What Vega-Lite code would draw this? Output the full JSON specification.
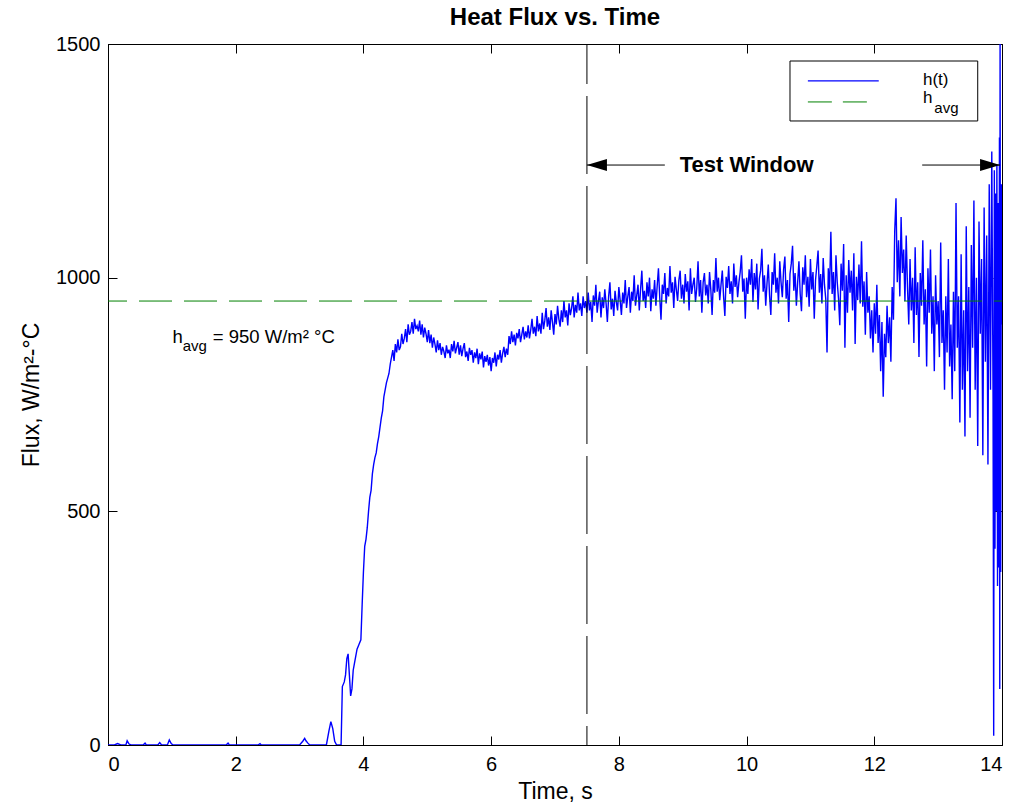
{
"$schema": "https://vega.github.io/schema/vega-lite/v6.json",
"width": 894, "height": 701,
"autosize": {"type": "none"},
"padding": {"left": 108, "top": 44, "right": 14, "bottom": 67},
"background": "white",
"title": {"text": "Heat Flux vs. Time", "font": "Liberation Sans", "fontSize": 24, "fontWeight": "bold", "color": "black", "anchor": "middle", "baseline": "alphabetic", "offset": 18, "dy": 33},
"config": {
  "view": {"stroke": "black", "strokeWidth": 1},
  "axis": {"domainColor": "black", "tickColor": "black", "labelColor": "black", "titleColor": "black", "grid": false,
    "labelFont": "Liberation Sans", "labelFontSize": 20, "format": "d",
    "titleFont": "Liberation Sans", "titleFontSize": 23, "titleFontWeight": "normal",
    "tickSize": -9, "domainWidth": 1, "tickWidth": 1}
},
"layer": [
{
"data": {"values": [
{"t":0,"h":0},{"t":0.1,"h":0},{"t":0.15,"h":3},{"t":0.2,"h":0},{"t":0.28,"h":0},{"t":0.3,"h":9},{"t":0.33,"h":2},{"t":0.36,"h":0},{"t":0.55,"h":0},{"t":0.58,"h":4},{"t":0.6,"h":0},{"t":0.78,"h":0},{"t":0.81,"h":5},{"t":0.84,"h":0},{"t":0.93,"h":0},{"t":0.96,"h":11},{"t":0.99,"h":3},{"t":1.02,"h":0},{"t":1.85,"h":0},{"t":1.88,"h":4},{"t":1.9,"h":0},{"t":2.35,"h":0},{"t":2.38,"h":3},{"t":2.4,"h":0},{"t":3.0,"h":0},{"t":3.05,"h":8},{"t":3.08,"h":14},{"t":3.1,"h":9},{"t":3.13,"h":4},{"t":3.16,"h":0},{"t":3.42,"h":0},{"t":3.46,"h":30},{"t":3.49,"h":50},{"t":3.52,"h":35},{"t":3.55,"h":8},{"t":3.58,"h":0},{"t":3.65,"h":0},
{"t":3.67,"h":125},{"t":3.70,"h":135},{"t":3.72,"h":150},{"t":3.74,"h":185},{"t":3.76,"h":195},{"t":3.78,"h":150},{"t":3.80,"h":105},{"t":3.82,"h":120},{"t":3.84,"h":160},{"t":3.86,"h":175},{"t":3.88,"h":190},{"t":3.90,"h":205},{"t":3.93,"h":215},{"t":3.96,"h":225},{"t":3.98,"h":300},{"t":4.00,"h":370},{"t":4.02,"h":425},{"t":4.04,"h":440},{"t":4.06,"h":465},{"t":4.08,"h":500},{"t":4.10,"h":530},{"t":4.12,"h":545},{"t":4.14,"h":580},{"t":4.16,"h":600},{"t":4.18,"h":615},{"t":4.20,"h":625},{"t":4.22,"h":645},{"t":4.24,"h":660},{"t":4.26,"h":680},{"t":4.28,"h":700},{"t":4.30,"h":715},{"t":4.32,"h":745},{"t":4.34,"h":760},{"t":4.36,"h":775},{"t":4.38,"h":785},{"t":4.40,"h":795},{"t":4.42,"h":815},{"t":4.44,"h":830},
{"t":4.46,"h":845},{"t":4.48,"h":822},{"t":4.50,"h":858},{"t":4.52,"h":840},{"t":4.54,"h":868},{"t":4.56,"h":845},{"t":4.58,"h":852},{"t":4.60,"h":880},{"t":4.62,"h":858},{"t":4.64,"h":870},{"t":4.66,"h":890},{"t":4.68,"h":862},{"t":4.70,"h":900},{"t":4.72,"h":878},{"t":4.74,"h":885},{"t":4.76,"h":905},{"t":4.78,"h":880},{"t":4.80,"h":912},{"t":4.82,"h":890},{"t":4.84,"h":897},{"t":4.86,"h":885},{"t":4.88,"h":908},{"t":4.90,"h":878},{"t":4.92,"h":900},{"t":4.94,"h":872},{"t":4.96,"h":893},{"t":4.98,"h":880},{"t":5.00,"h":862},{"t":5.02,"h":888},{"t":5.04,"h":860},{"t":5.06,"h":878},{"t":5.08,"h":850},{"t":5.10,"h":872},{"t":5.12,"h":858},{"t":5.14,"h":840},{"t":5.16,"h":866},{"t":5.18,"h":845},{"t":5.20,"h":860},{"t":5.22,"h":835},{"t":5.24,"h":852},{"t":5.26,"h":842},{"t":5.28,"h":828},{"t":5.30,"h":855},{"t":5.32,"h":838},{"t":5.34,"h":846},{"t":5.36,"h":828},{"t":5.38,"h":858},{"t":5.40,"h":842},{"t":5.42,"h":865},{"t":5.44,"h":838},{"t":5.46,"h":850},{"t":5.48,"h":862},{"t":5.50,"h":835},{"t":5.52,"h":855},{"t":5.54,"h":832},{"t":5.56,"h":848},{"t":5.58,"h":860},{"t":5.60,"h":830},{"t":5.62,"h":842},{"t":5.64,"h":822},{"t":5.66,"h":850},{"t":5.68,"h":835},{"t":5.70,"h":845},{"t":5.72,"h":818},{"t":5.74,"h":840},{"t":5.76,"h":828},{"t":5.78,"h":848},{"t":5.80,"h":815},{"t":5.82,"h":838},{"t":5.84,"h":825},{"t":5.86,"h":842},{"t":5.88,"h":808},{"t":5.90,"h":832},{"t":5.92,"h":820},{"t":5.94,"h":835},{"t":5.96,"h":812},{"t":5.98,"h":830},{"t":6.00,"h":800},{"t":6.02,"h":828},{"t":6.04,"h":818},{"t":6.06,"h":840},{"t":6.08,"h":810},{"t":6.10,"h":835},{"t":6.12,"h":825},{"t":6.14,"h":845},{"t":6.16,"h":818},{"t":6.18,"h":838},{"t":6.20,"h":852},{"t":6.22,"h":830},{"t":6.24,"h":848},{"t":6.26,"h":835},{"t":6.28,"h":875},{"t":6.30,"h":858},{"t":6.32,"h":885},{"t":6.34,"h":862},{"t":6.36,"h":878},{"t":6.38,"h":855},{"t":6.40,"h":882},{"t":6.42,"h":870},{"t":6.44,"h":890},{"t":6.46,"h":862},{"t":6.48,"h":878},{"t":6.50,"h":895},{"t":6.52,"h":868},{"t":6.54,"h":885},{"t":6.56,"h":872},{"t":6.58,"h":898},{"t":6.60,"h":870},{"t":6.62,"h":888},{"t":6.64,"h":912},{"t":6.66,"h":880},{"t":6.68,"h":895},{"t":6.70,"h":875},{"t":6.72,"h":918},{"t":6.74,"h":885},{"t":6.76,"h":902},{"t":6.78,"h":880},{"t":6.80,"h":925},{"t":6.82,"h":890},{"t":6.84,"h":908},{"t":6.86,"h":935},{"t":6.88,"h":895},{"t":6.90,"h":915},{"t":6.92,"h":888},{"t":6.94,"h":930},{"t":6.96,"h":905},{"t":6.98,"h":878},{"t":7.00,"h":922},{"t":7.02,"h":900},{"t":7.04,"h":940},{"t":7.06,"h":912},{"t":7.08,"h":895},{"t":7.10,"h":930},{"t":7.12,"h":905},{"t":7.14,"h":950},{"t":7.16,"h":915},{"t":7.18,"h":930},{"t":7.20,"h":898},{"t":7.22,"h":945},{"t":7.24,"h":920},{"t":7.26,"h":935},{"t":7.28,"h":960},{"t":7.30,"h":915},{"t":7.32,"h":942},{"t":7.34,"h":925},{"t":7.36,"h":968},{"t":7.38,"h":930},{"t":7.40,"h":945},{"t":7.42,"h":918},{"t":7.44,"h":960},{"t":7.46,"h":935},{"t":7.48,"h":950},{"t":7.50,"h":925},
{"t":7.52,"h":968},{"t":7.54,"h":930},{"t":7.56,"h":948},{"t":7.58,"h":905},{"t":7.60,"h":962},{"t":7.62,"h":940},{"t":7.64,"h":985},{"t":7.66,"h":925},{"t":7.68,"h":950},{"t":7.70,"h":970},{"t":7.72,"h":915},{"t":7.74,"h":958},{"t":7.76,"h":935},{"t":7.78,"h":975},{"t":7.80,"h":945},{"t":7.82,"h":905},{"t":7.84,"h":960},{"t":7.86,"h":990},{"t":7.88,"h":932},{"t":7.90,"h":955},{"t":7.92,"h":918},{"t":7.94,"h":972},{"t":7.96,"h":948},{"t":7.98,"h":930},{"t":8.00,"h":980},{"t":8.02,"h":952},{"t":8.04,"h":920},{"t":8.06,"h":968},{"t":8.08,"h":945},{"t":8.10,"h":995},{"t":8.12,"h":935},{"t":8.14,"h":960},{"t":8.16,"h":980},{"t":8.18,"h":925},{"t":8.20,"h":970},{"t":8.22,"h":950},{"t":8.24,"h":1005},{"t":8.26,"h":940},{"t":8.28,"h":962},{"t":8.30,"h":985},{"t":8.32,"h":930},{"t":8.34,"h":975},{"t":8.36,"h":1015},{"t":8.38,"h":950},{"t":8.40,"h":972},{"t":8.42,"h":935},{"t":8.44,"h":990},{"t":8.46,"h":960},{"t":8.48,"h":1000},{"t":8.50,"h":928},{"t":8.52,"h":975},{"t":8.54,"h":955},{"t":8.56,"h":995},{"t":8.58,"h":940},{"t":8.60,"h":982},{"t":8.62,"h":1020},{"t":8.64,"h":958},{"t":8.66,"h":910},{"t":8.68,"h":985},{"t":8.70,"h":965},{"t":8.72,"h":1010},{"t":8.74,"h":945},{"t":8.76,"h":978},{"t":8.78,"h":960},{"t":8.80,"h":1025},{"t":8.82,"h":968},{"t":8.84,"h":990},{"t":8.86,"h":935},{"t":8.88,"h":1002},{"t":8.90,"h":975},{"t":8.92,"h":950},{"t":8.94,"h":995},{"t":8.96,"h":1015},{"t":8.98,"h":955},{"t":9.00,"h":985},{"t":9.02,"h":945},{"t":9.04,"h":1008},{"t":9.06,"h":970},{"t":9.08,"h":992},{"t":9.10,"h":930},{"t":9.12,"h":1020},{"t":9.14,"h":965},{"t":9.16,"h":985},{"t":9.18,"h":1000},{"t":9.20,"h":948},{"t":9.22,"h":978},{"t":9.24,"h":1035},{"t":9.26,"h":960},{"t":9.28,"h":995},{"t":9.30,"h":925},{"t":9.32,"h":990},{"t":9.34,"h":1010},{"t":9.36,"h":962},{"t":9.38,"h":985},{"t":9.40,"h":945},{"t":9.42,"h":1012},{"t":9.44,"h":975},{"t":9.46,"h":920},{"t":9.48,"h":995},{"t":9.50,"h":968},{"t":9.52,"h":1042},{"t":9.54,"h":970},{"t":9.56,"h":1000},{"t":9.58,"h":952},{"t":9.60,"h":985},{"t":9.62,"h":1015},{"t":9.64,"h":960},{"t":9.66,"h":918},{"t":9.68,"h":1002},{"t":9.70,"h":978},{"t":9.72,"h":1025},{"t":9.74,"h":965},{"t":9.76,"h":992},{"t":9.78,"h":945},{"t":9.80,"h":1030},{"t":9.82,"h":980},{"t":9.84,"h":1005},{"t":9.86,"h":958},{"t":9.88,"h":990},{"t":9.90,"h":1012},{"t":9.92,"h":1048},{"t":9.94,"h":970},{"t":9.96,"h":998},{"t":9.98,"h":912},{"t":10.00,"h":1000},
{"t":10.02,"h":965},{"t":10.04,"h":1018},{"t":10.06,"h":985},{"t":10.08,"h":1040},{"t":10.10,"h":948},{"t":10.12,"h":1010},{"t":10.14,"h":975},{"t":10.16,"h":1030},{"t":10.18,"h":932},{"t":10.20,"h":998},{"t":10.22,"h":1015},{"t":10.24,"h":1062},{"t":10.26,"h":970},{"t":10.28,"h":1005},{"t":10.30,"h":940},{"t":10.32,"h":988},{"t":10.34,"h":1028},{"t":10.36,"h":962},{"t":10.38,"h":920},{"t":10.40,"h":1012},{"t":10.42,"h":985},{"t":10.44,"h":1052},{"t":10.46,"h":968},{"t":10.48,"h":1000},{"t":10.50,"h":945},{"t":10.52,"h":1035},{"t":10.54,"h":990},{"t":10.56,"h":958},{"t":10.58,"h":1018},{"t":10.60,"h":1045},{"t":10.62,"h":955},{"t":10.64,"h":995},{"t":10.66,"h":905},{"t":10.68,"h":1008},{"t":10.70,"h":1030},{"t":10.72,"h":1068},{"t":10.74,"h":972},{"t":10.76,"h":1010},{"t":10.78,"h":940},{"t":10.80,"h":990},{"t":10.82,"h":1035},{"t":10.84,"h":965},{"t":10.86,"h":928},{"t":10.88,"h":1022},{"t":10.90,"h":985},{"t":10.92,"h":1048},{"t":10.94,"h":958},{"t":10.96,"h":1002},{"t":10.98,"h":938},{"t":11.00,"h":1040},{"t":11.02,"h":975},{"t":11.04,"h":1012},{"t":11.06,"h":912},{"t":11.08,"h":995},{"t":11.10,"h":1025},{"t":11.12,"h":1058},{"t":11.14,"h":968},{"t":11.16,"h":1008},{"t":11.18,"h":945},{"t":11.20,"h":1042},{"t":11.22,"h":985},{"t":11.24,"h":955},{"t":11.26,"h":840},{"t":11.28,"h":1020},{"t":11.30,"h":975},{"t":11.32,"h":1098},{"t":11.34,"h":965},{"t":11.36,"h":1012},{"t":11.38,"h":930},{"t":11.40,"h":1048},{"t":11.42,"h":990},{"t":11.44,"h":955},{"t":11.46,"h":898},{"t":11.48,"h":1030},{"t":11.50,"h":972},{"t":11.52,"h":1072},{"t":11.54,"h":850},{"t":11.56,"h":1005},{"t":11.58,"h":925},{"t":11.60,"h":1038},{"t":11.62,"h":968},{"t":11.64,"h":1015},{"t":11.66,"h":930},{"t":11.68,"h":1052},{"t":11.70,"h":858},{"t":11.72,"h":1002},{"t":11.74,"h":952},{"t":11.76,"h":1028},{"t":11.78,"h":945},{"t":11.80,"h":1078},{"t":11.82,"h":938},{"t":11.84,"h":992},{"t":11.86,"h":878},{"t":11.88,"h":1012},{"t":11.90,"h":925},
{"t":11.92,"h":960},{"t":11.94,"h":870},{"t":11.96,"h":930},{"t":11.98,"h":840},{"t":12.00,"h":945},{"t":12.02,"h":880},{"t":12.04,"h":985},{"t":12.06,"h":860},{"t":12.08,"h":920},{"t":12.10,"h":800},{"t":12.12,"h":905},{"t":12.14,"h":745},{"t":12.16,"h":880},{"t":12.18,"h":830},{"t":12.20,"h":940},{"t":12.22,"h":860},{"t":12.24,"h":915},{"t":12.26,"h":820},{"t":12.28,"h":980},{"t":12.30,"h":910},
{"t":12.32,"h":1100},{"t":12.34,"h":1170},{"t":12.36,"h":990},{"t":12.38,"h":1080},{"t":12.40,"h":960},{"t":12.42,"h":1130},{"t":12.44,"h":1010},{"t":12.46,"h":1060},{"t":12.48,"h":950},{"t":12.50,"h":1090},
{"t":12.52,"h":980},{"t":12.54,"h":900},{"t":12.56,"h":1040},{"t":12.58,"h":930},{"t":12.60,"h":1000},{"t":12.62,"h":860},{"t":12.64,"h":1065},{"t":12.66,"h":920},{"t":12.68,"h":990},{"t":12.70,"h":830},{"t":12.72,"h":1010},{"t":12.74,"h":940},{"t":12.76,"h":1080},{"t":12.78,"h":900},{"t":12.80,"h":975},{"t":12.82,"h":810},{"t":12.84,"h":1020},{"t":12.86,"h":925},{"t":12.88,"h":1060},{"t":12.90,"h":880},{"t":12.92,"h":960},{"t":12.94,"h":800},{"t":12.96,"h":1005},{"t":12.98,"h":900},
{"t":13.00,"h":950},{"t":13.02,"h":830},{"t":13.04,"h":1075},{"t":13.06,"h":860},{"t":13.08,"h":930},{"t":13.10,"h":760},{"t":13.12,"h":960},{"t":13.14,"h":840},{"t":13.16,"h":1040},{"t":13.18,"h":810},{"t":13.20,"h":900},{"t":13.22,"h":740},{"t":13.24,"h":970},
{"t":13.26,"h":800},{"t":13.28,"h":1160},{"t":13.30,"h":850},{"t":13.32,"h":960},{"t":13.34,"h":690},{"t":13.36,"h":1050},{"t":13.38,"h":760},{"t":13.40,"h":930},{"t":13.42,"h":660},{"t":13.44,"h":1110},{"t":13.46,"h":800},{"t":13.48,"h":980},{"t":13.50,"h":700},
{"t":13.52,"h":1070},{"t":13.54,"h":850},{"t":13.56,"h":1165},{"t":13.58,"h":760},{"t":13.60,"h":1000},{"t":13.62,"h":640},{"t":13.64,"h":1120},{"t":13.66,"h":880},{"t":13.68,"h":1040},{"t":13.70,"h":620},{"t":13.72,"h":1150},{"t":13.74,"h":820},{"t":13.76,"h":1090},{"t":13.78,"h":600},
{"t":13.80,"h":1200},{"t":13.82,"h":760},{"t":13.84,"h":1270},{"t":13.86,"h":740},{"t":13.87,"h":20},{"t":13.88,"h":1230},{"t":13.89,"h":420},{"t":13.90,"h":1180},{"t":13.91,"h":500},{"t":13.92,"h":1240},{"t":13.93,"h":340},{"t":13.94,"h":1160},{"t":13.95,"h":380},{"t":13.96,"h":1300},{"t":13.965,"h":120},{"t":13.97,"h":1500},{"t":13.98,"h":370},{"t":13.99,"h":1200},{"t":14.00,"h":900}
]},
"mark": {"type": "line", "color": "#0000ff", "strokeWidth": 1.4, "clip": true},
"encoding": {
  "x": {"field": "t", "type": "quantitative", "scale": {"domain": [0, 14], "nice": false, "zero": false},
        "axis": {"orient": "bottom", "values": [0,2,4,6,8,10,12,14], "title": "Time, s", "labelPadding": 18, "titlePadding": 6}},
  "y": {"field": "h", "type": "quantitative", "scale": {"domain": [0, 1500], "nice": false},
        "axis": {"orient": "left", "values": [0,500,1000,1500], "title": "Flux, W/m²-°C", "labelPadding": 17, "titlePadding": 12}}
}
},
{
"data": {"values": [{}]},
"mark": {"type": "rule", "color": "#008000", "strokeWidth": 1, "strokeDash": [33, 12], "strokeDashOffset": 25},
"encoding": {"y": {"datum": 950, "type": "quantitative", "axis": null}}
},
{
"data": {"values": [{}]},
"mark": {"type": "rule", "color": "black", "strokeWidth": 1, "strokeDash": [78, 12], "strokeDashOffset": 38},
"encoding": {"x": {"datum": 7.5, "type": "quantitative", "axis": null}}
},
{
"data": {"values": [{}]},
"mark": {"type": "rule", "color": "black", "strokeWidth": 1},
"encoding": {"x": {"datum": 7.5, "type": "quantitative", "axis": null}, "x2": {"datum": 8.72}, "y": {"datum": 1241, "type": "quantitative", "axis": null}}
},
{
"data": {"values": [{}]},
"mark": {"type": "rule", "color": "black", "strokeWidth": 1},
"encoding": {"x": {"datum": 12.75, "type": "quantitative", "axis": null}, "x2": {"datum": 13.97}, "y": {"datum": 1241, "type": "quantitative", "axis": null}}
},
{
"data": {"values": [{}]},
"mark": {"type": "point", "shape": "M0,0L2,-0.6L2,0.6Z", "filled": true, "size": 400, "color": "black", "opacity": 1},
"encoding": {"x": {"datum": 7.5, "type": "quantitative", "axis": null}, "y": {"datum": 1241, "type": "quantitative", "axis": null}}
},
{
"data": {"values": [{}]},
"mark": {"type": "point", "shape": "M0,0L-2,-0.6L-2,0.6Z", "filled": true, "size": 400, "color": "black", "opacity": 1},
"encoding": {"x": {"datum": 13.97, "type": "quantitative", "axis": null}, "y": {"datum": 1241, "type": "quantitative", "axis": null}}
},
{
"data": {"values": [{}]},
"mark": {"type": "text", "text": "Test Window", "font": "Liberation Sans", "fontSize": 22, "fontWeight": "bold", "color": "black", "align": "center", "baseline": "middle"},
"encoding": {"x": {"datum": 10.0, "type": "quantitative", "axis": null}, "y": {"datum": 1241, "type": "quantitative", "axis": null}}
},
{
"data": {"values": [{}]},
"mark": {"type": "text", "text": "h", "font": "Liberation Sans", "fontSize": 18.5, "color": "black", "align": "left", "baseline": "middle"},
"encoding": {"x": {"datum": 1.012, "type": "quantitative", "axis": null}, "y": {"datum": 873, "type": "quantitative", "axis": null}}
},
{
"data": {"values": [{}]},
"mark": {"type": "text", "text": "avg", "font": "Liberation Sans", "fontSize": 15, "color": "black", "align": "left", "baseline": "middle"},
"encoding": {"x": {"datum": 1.17, "type": "quantitative", "axis": null}, "y": {"datum": 854, "type": "quantitative", "axis": null}}
},
{
"data": {"values": [{}]},
"mark": {"type": "text", "text": "= 950 W/m² °C", "font": "Liberation Sans", "fontSize": 18.5, "color": "black", "align": "left", "baseline": "middle"},
"encoding": {"x": {"datum": 1.64, "type": "quantitative", "axis": null}, "y": {"datum": 873, "type": "quantitative", "axis": null}}
},
{
"data": {"values": [{}]},
"mark": {"type": "rect", "fill": "white", "stroke": "black", "strokeWidth": 1},
"encoding": {
  "x": {"datum": 10.68, "type": "quantitative", "axis": {"orient": "top", "labels": false, "title": null, "values": [0,2,4,6,8,10,12,14]}},
  "x2": {"datum": 13.62},
  "y": {"datum": 1463.6, "type": "quantitative", "axis": {"orient": "right", "labels": false, "title": null, "values": [0,500,1000,1500]}},
  "y2": {"datum": 1335.3}
}
},
{
"data": {"values": [{}]},
"mark": {"type": "rule", "color": "#0000ff", "strokeWidth": 1.2},
"encoding": {"x": {"datum": 10.96, "type": "quantitative", "axis": null}, "x2": {"datum": 12.07}, "y": {"datum": 1421, "type": "quantitative", "axis": null}}
},
{
"data": {"values": [{}]},
"mark": {"type": "rule", "color": "#008000", "strokeWidth": 1, "strokeDash": [24, 11]},
"encoding": {"x": {"datum": 10.96, "type": "quantitative", "axis": null}, "x2": {"datum": 12.03}, "y": {"datum": 1376, "type": "quantitative", "axis": null}}
},
{
"data": {"values": [{}]},
"mark": {"type": "text", "text": "h(t)", "font": "Liberation Sans", "fontSize": 17, "color": "black", "align": "left", "baseline": "middle"},
"encoding": {"x": {"datum": 12.763, "type": "quantitative", "axis": null}, "y": {"datum": 1424, "type": "quantitative", "axis": null}}
},
{
"data": {"values": [{}]},
"mark": {"type": "text", "text": "h", "font": "Liberation Sans", "fontSize": 17, "color": "black", "align": "left", "baseline": "middle"},
"encoding": {"x": {"datum": 12.763, "type": "quantitative", "axis": null}, "y": {"datum": 1384, "type": "quantitative", "axis": null}}
},
{
"data": {"values": [{}]},
"mark": {"type": "text", "text": "avg", "font": "Liberation Sans", "fontSize": 15, "color": "black", "align": "left", "baseline": "middle"},
"encoding": {"x": {"datum": 12.94, "type": "quantitative", "axis": null}, "y": {"datum": 1363, "type": "quantitative", "axis": null}}
}
],
"resolve": {"axis": {"x": "independent", "y": "independent"}}
}
